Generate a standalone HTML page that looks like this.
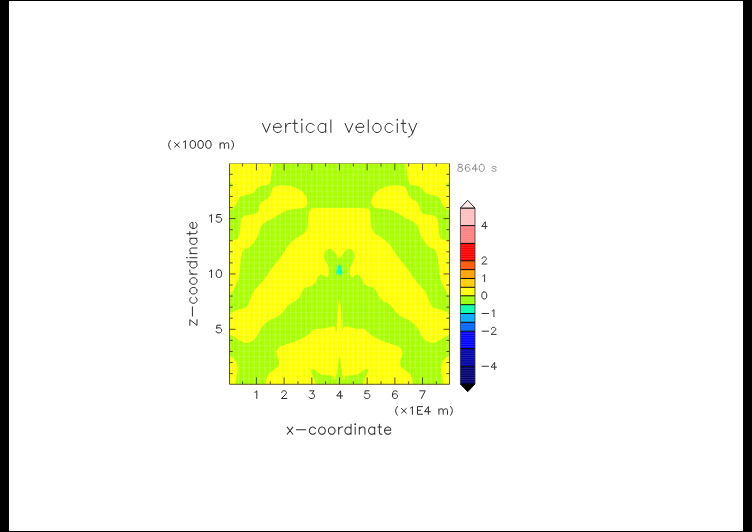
<!DOCTYPE html>
<html><head><meta charset="utf-8"><title>vertical velocity</title>
<style>
html,body{margin:0;padding:0;background:#000;width:752px;height:532px;overflow:hidden;font-family:"Liberation Sans",sans-serif}
svg{display:block;position:absolute;left:0;top:0}
.t use,.t path{fill:none}
</style></head><body>
<svg width="752" height="532" viewBox="0 0 752 532">
<defs>
<clipPath id="fr"><rect x="229.5" y="163.5" width="220.0" height="220.8"/></clipPath>
<g fill="none" stroke-linecap="round" stroke-linejoin="round" vector-effect="non-scaling-stroke">
<path id="g40" d="M6.5 20Q-3.1 9 6.5 -2.5"/>
<path id="g41" d="M4 20Q13.6 9 4 -2.5"/>
<path id="g45" d="M4 9L22 9"/>
<path id="g48" d="M9 19.74L11 19.74L14 18.8L16 15.98L17 11.28L17 8.46L16 3.76L14 0.94L11 0.0L9 0.0L6 0.94L4 3.76L3 8.46L3 11.28L4 15.98L6 18.8L9 19.74"/>
<path id="g49" d="M11 0.0L11 19.74L8 16.92L6 15.98"/>
<path id="g50" d="M4 15.04L4 15.98L5 17.86L6 18.8L8 19.74L12 19.74L14 18.8L15 17.86L16 15.98L16 14.1L15 12.22L13 9.4L3 0.0L17 0.0"/>
<path id="g51" d="M5 19.74L16 19.74L10 12.22L13 12.22L15 11.28L16 10.34L17 7.52L17 5.64L16 2.82L14 0.94L11 0.0L8 0.0L5 0.94L4 1.88L3 3.76"/>
<path id="g52" d="M13 0.0L13 19.74L3 6.58L18 6.58"/>
<path id="g53" d="M15 19.74L5 19.74L4 11.28L5 12.22L8 13.16L11 13.16L14 12.22L16 10.34L17 7.52L17 5.64L16 2.82L14 0.94L11 0.0L8 0.0L5 0.94L4 1.88L3 3.76"/>
<path id="g54" d="M16 16.92L15 18.8L12 19.74L10 19.74L7 18.8L5 15.98L4 11.28L4 6.58L5 9.4L7 11.28L10 12.22L11 12.22L14 11.28L16 9.4L17 6.58L17 5.64L16 2.82L14 0.94L11 0.0L10 0.0L7 0.94L5 2.82L4 6.58"/>
<path id="g55" d="M3 19.74L17 19.74L7 0.0"/>
<path id="g56" d="M8 19.74L12 19.74L15 18.8L16 16.92L16 15.04L15 13.16L13 12.22L9 11.28L6 10.34L4 8.46L3 6.58L3 3.76L4 1.88L5 0.94L8 0.0L12 0.0L15 0.94L16 1.88L17 3.76L17 6.58L16 8.46L14 10.34L11 11.28L7 12.22L5 13.16L4 15.04L4 16.92L5 18.8L8 19.74"/>
<path id="g69" d="M17 19.74L4 19.74L4 0.0L17 0.0M4 10.34L12 10.34"/>
<path id="g88" d="M3 3L15.5 15M15.5 3L3 15"/>
<path id="g97" d="M15 14L15 0M15 11L13 13L11 14L8 14L6 13L4 11L3 8L3 6L4 3L6 1L8 0L11 0L13 1L15 3"/>
<path id="g99" d="M15 11L13 13L11 14L8 14L6 13L4 11L3 8L3 6L4 3L6 1L8 0L11 0L13 1L15 3"/>
<path id="g100" d="M15 19.5L15 0M15 11L13 13L11 14L8 14L6 13L4 11L3 8L3 6L4 3L6 1L8 0L11 0L13 1L15 3"/>
<path id="g101" d="M15 3L13 1L11 0L8 0L6 1L4 3L3 6L3 8L4 11L6 13L8 14L11 14L13 13L14 12L15 10L15 8L3 8"/>
<path id="g105" d="M4 14L4 0M4 20.29L3 19.5L4 18.71L5 19.5L4 20.29"/>
<path id="g108" d="M4 19.5L4 0"/>
<path id="g109" d="M4 14L4 0M4 10L7 13L9 14L12 14L14 13L15 10L18 13L20 14L23 14L25 13L26 10L26 0M15 0L15 10"/>
<path id="g110" d="M4 14L4 0M4 10L7 13L9 14L12 14L14 13L15 10L15 0"/>
<path id="g111" d="M8 14L11 14L13 13L15 11L16 8L16 6L15 3L13 1L11 0L8 0L6 1L4 3L3 6L3 8L4 11L6 13L8 14"/>
<path id="g114" d="M4 14L4 0M12 14L9 14L7 13L5 11L4 8"/>
<path id="g115" d="M14 11L13 13L10 14L7 14L4 13L3 11L4 9L6 8L11 7L13 6L14 4L14 3L13 1L10 0L7 0L4 1L3 3"/>
<path id="g116" d="M5 19.5L5 4L6 1L8 0L10 0M2 14L9 14"/>
<path id="g118" d="M2 14L8 0L14 14"/>
<path id="g120" d="M3 14L14 0M14 14L3 0"/>
<path id="g121" d="M2 14L8 0L14 14M1 -7L2 -7L4 -6L6 -4L8 0"/>
<path id="g122" d="M3 14L14 14L3 0L14 0"/>
</g>
</defs>
<rect x="0" y="0" width="752" height="532" fill="#000"/>
<rect x="9" y="1" width="734" height="530" fill="#fff"/>
<g clip-path="url(#fr)">
<rect x="229.5" y="163.5" width="220.0" height="220.8" fill="#ffff00"/>
<path d="M339.7 163.5 L339.7 207.9 L317.5 207.9 L310.8 208.6 L309.4 210.4 L308.7 212.9 L308.3 217.3 L308.0 220.9 L307.9 225.3 L307.3 228.2 L306.2 230.8 L304.8 232.6 L302.6 234.4 L300.3 235.9 L296.7 238.0 L293.9 240.1 L290.3 243.3 L288.0 246.0 L285.8 249.6 L283.7 252.8 L280.5 257.2 L277.9 260.8 L274.3 265.2 L272.0 268.1 L269.8 270.9 L268.2 273.2 L266.4 276.2 L264.8 278.6 L262.3 281.5 L260.2 283.9 L257.2 286.9 L255.2 289.3 L253.1 292.2 L251.8 294.8 L250.7 298.4 L249.7 301.0 L248.5 304.0 L247.2 305.9 L245.1 307.7 L242.9 308.6 L239.2 309.3 L236.7 310.0 L234.1 311.1 L232.2 312.3 L229.5 314.8 L229.5 210.3 L233.1 208.2 L234.6 207.0 L235.7 205.6 L236.6 204.1 L237.4 201.6 L238.3 199.9 L239.5 197.8 L240.9 196.6 L243.4 195.7 L245.7 195.1 L249.3 194.5 L251.5 193.8 L253.6 192.6 L255.0 191.2 L256.5 188.7 L258.0 187.4 L260.5 186.3 L262.9 185.6 L266.9 184.9 L268.9 183.9 L270.0 182.1 L270.7 180.2 L271.1 177.2 L271.5 174.8 L271.9 171.9 L272.5 169.1 L273.7 163.5Z" fill="#a8ff00"/>
<path d="M339.1 163.5 L339.1 207.9 L361.2 207.9 L368.0 208.6 L369.4 210.4 L370.1 212.9 L370.5 217.3 L370.8 220.9 L370.9 225.3 L371.5 228.2 L372.6 230.8 L374.0 232.6 L376.2 234.4 L378.5 235.9 L382.1 238.0 L384.9 240.1 L388.5 243.3 L390.8 246.0 L393.0 249.6 L395.1 252.8 L398.3 257.2 L400.9 260.8 L404.5 265.2 L406.8 268.1 L409.0 270.9 L410.6 273.2 L412.4 276.2 L414.1 278.6 L416.4 281.5 L418.6 283.9 L421.6 286.9 L423.6 289.3 L425.7 292.2 L427.0 294.8 L428.1 298.4 L429.1 301.0 L430.3 304.0 L431.6 305.9 L433.7 307.7 L435.9 308.6 L439.6 309.3 L442.1 310.0 L444.7 311.1 L446.6 312.3 L449.3 314.8 L449.3 210.3 L445.7 208.2 L444.2 207.0 L443.1 205.6 L442.2 204.1 L441.4 201.6 L440.5 199.9 L439.3 197.8 L437.9 196.6 L435.4 195.7 L433.1 195.1 L429.5 194.5 L427.3 193.8 L425.2 192.6 L423.8 191.2 L422.3 188.7 L420.8 187.4 L418.4 186.3 L415.9 185.6 L411.9 184.9 L409.9 183.9 L408.8 182.1 L408.1 180.2 L407.7 177.2 L407.3 174.8 L406.9 171.9 L406.4 169.1 L405.1 163.5Z" fill="#a8ff00"/>
<path d="M272.5 188.3 L274.0 186.8 L276.6 186.0 L279.1 185.5 L282.7 185.2 L285.9 185.4 L290.3 186.1 L293.9 187.1 L298.3 188.9 L301.2 190.7 L303.8 193.3 L305.4 195.6 L306.8 198.7 L307.3 201.0 L307.3 203.6 L306.8 205.3 L305.4 207.0 L303.8 207.8 L301.2 208.2 L298.3 208.6 L293.9 209.0 L290.7 209.6 L287.1 210.4 L284.3 211.6 L280.7 213.5 L277.9 215.2 L274.3 217.4 L271.5 219.0 L267.9 220.8 L265.6 222.0 L263.4 223.4 L262.0 225.0 L260.7 227.6 L259.8 229.9 L259.0 233.1 L258.0 235.4 L256.6 238.4 L254.8 241.0 L251.9 245.0 L249.9 246.9 L247.8 247.9 L246.3 248.5 L244.4 249.0 L243.2 250.4 L242.1 253.3 L241.4 256.4 L240.7 261.2 L240.3 265.1 L239.8 270.0 L239.4 273.3 L238.8 276.8 L238.1 279.5 L236.7 283.1 L235.5 285.9 L233.7 289.5 L232.2 292.1 L229.5 296.5 L229.5 240.7 L232.2 240.1 L234.1 239.7 L236.7 239.3 L238.2 238.2 L239.0 236.0 L239.6 233.3 L240.0 228.9 L240.4 225.3 L240.8 220.9 L241.7 218.3 L243.5 216.4 L245.3 215.4 L247.9 214.9 L250.2 214.6 L253.4 214.4 L255.3 213.8 L257.1 212.4 L258.2 210.7 L259.0 207.5 L259.8 205.4 L260.6 203.2 L261.9 201.8 L264.1 200.5 L266.0 199.3 L268.7 197.5 L270.1 195.7 L270.9 193.1 L271.7 190.9Z" fill="#ffff00"/>
<path d="M406.2 188.3 L404.8 186.8 L402.2 186.0 L399.7 185.5 L396.1 185.2 L392.9 185.4 L388.5 186.1 L384.9 187.1 L380.5 188.9 L377.6 190.7 L375.0 193.3 L373.4 195.6 L372.0 198.7 L371.5 201.0 L371.5 203.6 L372.0 205.3 L373.4 207.0 L375.0 207.8 L377.6 208.2 L380.5 208.6 L384.9 209.0 L388.1 209.6 L391.7 210.4 L394.5 211.6 L398.1 213.5 L400.9 215.2 L404.5 217.4 L407.3 219.0 L410.9 220.8 L413.2 222.0 L415.4 223.4 L416.8 225.0 L418.1 227.6 L418.9 229.9 L419.9 233.1 L420.8 235.4 L422.2 238.4 L424.0 241.0 L426.9 245.0 L428.9 246.9 L431.0 247.9 L432.5 248.5 L434.4 249.0 L435.6 250.4 L436.7 253.3 L437.4 256.4 L438.1 261.2 L438.5 265.1 L439.0 270.0 L439.4 273.3 L440.0 276.8 L440.7 279.5 L442.1 283.1 L443.3 285.9 L445.1 289.5 L446.6 292.1 L449.3 296.5 L449.3 240.7 L446.6 240.1 L444.7 239.7 L442.1 239.3 L440.6 238.2 L439.8 236.0 L439.2 233.3 L438.8 228.9 L438.4 225.3 L438.0 220.9 L437.1 218.3 L435.3 216.4 L433.5 215.4 L430.9 214.9 L428.6 214.6 L425.4 214.4 L423.5 213.8 L421.7 212.4 L420.6 210.7 L419.8 207.5 L419.1 205.4 L418.1 203.2 L416.9 201.8 L414.7 200.5 L412.8 199.3 L410.1 197.5 L408.8 195.7 L407.9 193.1 L407.1 190.9Z" fill="#ffff00"/>
<path d="M229.5 182.6 L231.1 183.1 L231.7 183.6 L232.3 184.8 L232.3 185.7 L231.7 186.9 L231.1 187.5 L229.5 188.0Z" fill="#a8ff00"/>
<path d="M449.3 182.6 L447.7 183.1 L447.1 183.6 L446.5 184.8 L446.5 185.7 L447.1 186.9 L447.7 187.5 L449.3 188.0Z" fill="#a8ff00"/>
<path d="M339.7 258.4 L339.2 258.4 L337.3 256.4 L336.4 255.1 L335.3 253.2 L334.5 251.9 L333.3 250.5 L332.2 249.7 L330.3 249.0 L328.9 249.0 L327.0 249.7 L325.9 250.6 L324.7 252.5 L324.3 254.2 L324.1 256.8 L324.5 258.7 L325.3 260.8 L326.3 262.6 L327.7 264.8 L328.5 266.6 L329.0 268.7 L329.1 270.8 L329.0 273.7 L328.5 275.5 L327.4 276.9 L326.3 277.1 L324.4 275.9 L323.1 275.2 L321.7 274.5 L320.7 274.5 L319.5 275.2 L318.7 276.2 L317.5 278.1 L316.7 279.8 L315.5 282.4 L314.2 284.0 L312.1 285.5 L310.2 286.4 L307.6 287.1 L306.2 287.4 L305.4 287.6 L304.4 288.4 L302.7 290.5 L301.5 292.7 L300.0 296.3 L298.6 298.4 L296.5 300.2 L294.5 301.5 L291.5 303.0 L289.5 304.3 L287.4 306.1 L285.9 307.9 L284.1 310.5 L282.6 312.4 L280.4 314.6 L278.4 316.0 L275.5 317.4 L273.1 318.6 L270.1 320.1 L268.0 321.4 L265.5 323.2 L263.9 324.7 L262.1 326.9 L261.0 328.6 L259.8 330.7 L258.9 332.6 L257.5 335.2 L256.5 336.9 L255.3 338.5 L254.2 339.6 L252.8 340.8 L251.5 341.5 L249.7 342.3 L248.3 342.7 L246.5 342.9 L245.1 342.8 L243.2 342.2 L241.5 341.4 L238.8 340.0 L236.0 338.3 L229.5 334.6 L229.5 356.1 L233.5 358.0 L235.2 359.7 L236.9 362.9 L237.6 365.5 L237.7 369.1 L237.4 372.3 L236.6 376.7 L236.0 379.8 L235.4 384.3 L265.7 384.3 L266.9 377.3 L268.5 374.2 L271.7 371.6 L274.1 369.6 L277.3 367.4 L278.7 365.4 L279.1 362.8 L278.8 360.5 L277.4 357.3 L276.7 355.0 L276.3 352.4 L276.6 350.4 L278.0 348.2 L279.7 346.8 L282.9 345.4 L285.9 344.4 L290.3 343.1 L293.9 341.9 L298.3 340.1 L301.8 338.5 L306.2 336.0 L308.8 334.2 L310.9 332.1 L312.4 330.7 L313.9 329.4 L316.5 328.8 L321.7 328.7 L325.2 328.2 L328.8 327.2 L331.4 326.7 L334.1 326.4 L335.3 327.1 L335.6 329.2 L335.8 330.6 L336.2 332.0 L336.4 331.5 L336.8 329.0 L337.0 326.7 L337.1 323.3 L337.4 319.4 L337.7 312.6 L338.1 308.5 L338.4 304.5 L338.7 302.0 L339.2 298.6 L339.7 298.6Z" fill="#a8ff00"/>
<path d="M339.1 258.4 L339.6 258.4 L341.5 256.4 L342.4 255.1 L343.5 253.2 L344.3 251.9 L345.5 250.5 L346.6 249.7 L348.5 249.0 L349.9 249.0 L351.8 249.7 L352.9 250.6 L354.1 252.5 L354.5 254.2 L354.7 256.8 L354.4 258.7 L353.4 260.8 L352.5 262.6 L351.1 264.8 L350.3 266.6 L349.8 268.7 L349.7 270.8 L349.8 273.7 L350.3 275.5 L351.4 276.9 L352.5 277.1 L354.4 275.9 L355.7 275.2 L357.1 274.5 L358.1 274.5 L359.3 275.2 L360.1 276.2 L361.3 278.1 L362.1 279.8 L363.3 282.4 L364.6 284.0 L366.7 285.5 L368.6 286.4 L371.2 287.1 L372.6 287.4 L373.4 287.6 L374.4 288.4 L376.1 290.5 L377.3 292.7 L378.8 296.3 L380.2 298.4 L382.3 300.2 L384.3 301.5 L387.3 303.0 L389.3 304.3 L391.4 306.1 L392.9 307.9 L394.7 310.5 L396.2 312.4 L398.4 314.6 L400.4 316.0 L403.3 317.4 L405.7 318.6 L408.7 320.1 L410.9 321.4 L413.2 323.2 L414.9 324.7 L416.7 326.9 L417.8 328.6 L419.0 330.7 L419.9 332.6 L421.3 335.2 L422.3 336.9 L423.5 338.5 L424.6 339.6 L426.0 340.8 L427.3 341.5 L429.1 342.3 L430.5 342.7 L432.3 342.9 L433.7 342.8 L435.6 342.2 L437.3 341.4 L440.0 340.0 L442.8 338.3 L449.3 334.6 L449.3 356.1 L445.3 358.0 L443.6 359.7 L441.9 362.9 L441.2 365.5 L441.1 369.1 L441.4 372.3 L442.2 376.7 L442.8 379.8 L443.4 384.3 L413.1 384.3 L411.9 377.3 L410.3 374.2 L407.1 371.6 L404.7 369.6 L401.5 367.4 L400.1 365.4 L399.7 362.8 L400.0 360.5 L401.4 357.3 L402.1 355.0 L402.5 352.4 L402.2 350.4 L400.8 348.2 L399.1 346.8 L395.9 345.4 L392.9 344.4 L388.5 343.1 L384.9 341.9 L380.5 340.1 L377.0 338.5 L372.6 336.0 L370.0 334.2 L367.9 332.1 L366.4 330.7 L364.9 329.4 L362.3 328.8 L357.1 328.7 L353.6 328.2 L349.9 327.2 L347.4 326.7 L344.7 326.4 L343.5 327.1 L343.2 329.2 L343.0 330.6 L342.6 332.0 L342.4 331.5 L342.0 329.0 L341.8 326.7 L341.7 323.3 L341.4 319.4 L341.1 312.6 L340.8 308.5 L340.4 304.5 L340.1 302.0 L339.6 298.6 L339.1 298.6Z" fill="#a8ff00"/>
<path d="M310.5 369.6 L311.1 369.2 L312.6 369.0 L314.1 369.6 L316.2 371.3 L318.0 372.6 L320.1 374.0 L322.2 374.8 L325.1 375.1 L327.5 375.4 L330.4 375.5 L332.0 375.7 L333.0 375.8 L333.5 376.4 L333.7 377.5 L334.0 378.6 L334.3 380.2 L334.7 380.2 L335.4 378.6 L335.7 377.6 L335.9 376.4 L336.2 375.3 L336.6 373.3 L337.0 371.1 L337.6 367.5 L338.0 364.7 L338.4 361.3 L338.8 359.4 L339.3 357.2 L339.7 357.2 L339.7 384.3 L315.8 384.3 L314.8 380.9 L314.1 378.9 L312.9 376.3 L312.1 374.3 L310.9 371.7 L310.5 370.4Z" fill="#a8ff00"/>
<path d="M368.3 369.6 L367.7 369.2 L366.2 369.0 L364.7 369.6 L362.6 371.3 L360.8 372.6 L358.7 374.0 L356.6 374.8 L353.7 375.1 L351.3 375.4 L348.4 375.5 L346.8 375.7 L345.8 375.8 L345.3 376.4 L345.1 377.5 L344.9 378.6 L344.4 380.2 L344.1 380.2 L343.4 378.6 L343.1 377.6 L342.9 376.4 L342.6 375.3 L342.2 373.3 L341.8 371.1 L341.2 367.5 L340.8 364.7 L340.4 361.3 L340.1 359.4 L339.5 357.2 L339.1 357.2 L339.1 384.3 L363.0 384.3 L364.0 380.9 L364.7 378.9 L365.9 376.3 L366.7 374.3 L367.9 371.7 L368.3 370.4Z" fill="#a8ff00"/>
<path d="M339.3 263.9 L337.7 266.3 L337.0 267.9 L336.6 270.0 L336.4 271.7 L336.4 273.7 L336.7 274.6 L337.3 274.9 L338.0 274.8 L339.3 274.1 L341.0 275.0 L342.2 274.5 L342.2 270.9 L341.4 267.0Z" fill="#00ffb4"/>
<path d="M233.50 163.5V384.3M238.70 163.5V384.3M243.90 163.5V384.3M249.10 163.5V384.3M254.30 163.5V384.3M259.50 163.5V384.3M264.70 163.5V384.3M269.90 163.5V384.3M275.10 163.5V384.3M280.30 163.5V384.3M285.50 163.5V384.3M290.70 163.5V384.3M295.90 163.5V384.3M301.10 163.5V384.3M306.30 163.5V384.3M311.50 163.5V384.3M316.70 163.5V384.3M321.90 163.5V384.3M327.10 163.5V384.3M332.30 163.5V384.3M337.50 163.5V384.3M342.70 163.5V384.3M347.90 163.5V384.3M353.10 163.5V384.3M358.30 163.5V384.3M363.50 163.5V384.3M368.70 163.5V384.3M373.90 163.5V384.3M379.10 163.5V384.3M384.30 163.5V384.3M389.50 163.5V384.3M394.70 163.5V384.3M399.90 163.5V384.3M405.10 163.5V384.3M410.30 163.5V384.3M415.50 163.5V384.3M420.70 163.5V384.3M425.90 163.5V384.3M431.10 163.5V384.3M436.30 163.5V384.3M441.50 163.5V384.3M446.70 163.5V384.3" stroke="#fff" stroke-opacity="0.2" stroke-width="1.5" fill="none"/>
<path d="M229.5 378.78H449.5M229.5 373.26H449.5M229.5 367.74H449.5M229.5 362.22H449.5M229.5 356.70H449.5M229.5 351.18H449.5M229.5 345.66H449.5M229.5 340.14H449.5M229.5 334.62H449.5M229.5 329.10H449.5M229.5 323.58H449.5M229.5 318.06H449.5M229.5 312.54H449.5M229.5 307.02H449.5M229.5 301.50H449.5M229.5 295.98H449.5M229.5 290.46H449.5M229.5 284.94H449.5M229.5 279.42H449.5M229.5 273.90H449.5M229.5 268.38H449.5M229.5 262.86H449.5M229.5 257.34H449.5M229.5 251.82H449.5M229.5 246.30H449.5M229.5 240.78H449.5M229.5 235.26H449.5M229.5 229.74H449.5M229.5 224.22H449.5M229.5 218.70H449.5M229.5 213.18H449.5M229.5 207.66H449.5M229.5 202.14H449.5M229.5 196.62H449.5M229.5 191.10H449.5M229.5 185.58H449.5M229.5 180.06H449.5M229.5 174.54H449.5M229.5 169.02H449.5" stroke="#fff" stroke-opacity="0.11" stroke-width="1.2" fill="none"/>
</g>
<g fill="none">
<path d="M242.59 384.30L242.59 381.30" stroke="#2b2b08" stroke-width="0.8"/>
<path d="M242.59 163.50L242.59 166.50" stroke="#2b2b08" stroke-width="0.8"/>
<path d="M256.43 384.30L256.43 377.40" stroke="#2b2b08" stroke-width="0.8"/>
<path d="M256.43 163.50L256.43 170.40" stroke="#2b2b08" stroke-width="0.8"/>
<path d="M270.27 384.30L270.27 381.30" stroke="#2b2b08" stroke-width="0.8"/>
<path d="M270.27 163.50L270.27 166.50" stroke="#2b2b08" stroke-width="0.8"/>
<path d="M284.11 384.30L284.11 377.40" stroke="#2b2b08" stroke-width="0.8"/>
<path d="M284.11 163.50L284.11 170.40" stroke="#2b2b08" stroke-width="0.8"/>
<path d="M297.95 384.30L297.95 381.30" stroke="#2b2b08" stroke-width="0.8"/>
<path d="M297.95 163.50L297.95 166.50" stroke="#2b2b08" stroke-width="0.8"/>
<path d="M311.79 384.30L311.79 377.40" stroke="#2b2b08" stroke-width="0.8"/>
<path d="M311.79 163.50L311.79 170.40" stroke="#2b2b08" stroke-width="0.8"/>
<path d="M325.63 384.30L325.63 381.30" stroke="#2b2b08" stroke-width="0.8"/>
<path d="M325.63 163.50L325.63 166.50" stroke="#2b2b08" stroke-width="0.8"/>
<path d="M339.47 384.30L339.47 377.40" stroke="#2b2b08" stroke-width="0.8"/>
<path d="M339.47 163.50L339.47 170.40" stroke="#2b2b08" stroke-width="0.8"/>
<path d="M353.31 384.30L353.31 381.30" stroke="#2b2b08" stroke-width="0.8"/>
<path d="M353.31 163.50L353.31 166.50" stroke="#2b2b08" stroke-width="0.8"/>
<path d="M367.15 384.30L367.15 377.40" stroke="#2b2b08" stroke-width="0.8"/>
<path d="M367.15 163.50L367.15 170.40" stroke="#2b2b08" stroke-width="0.8"/>
<path d="M380.99 384.30L380.99 381.30" stroke="#2b2b08" stroke-width="0.8"/>
<path d="M380.99 163.50L380.99 166.50" stroke="#2b2b08" stroke-width="0.8"/>
<path d="M394.83 384.30L394.83 377.40" stroke="#2b2b08" stroke-width="0.8"/>
<path d="M394.83 163.50L394.83 170.40" stroke="#2b2b08" stroke-width="0.8"/>
<path d="M408.67 384.30L408.67 381.30" stroke="#2b2b08" stroke-width="0.8"/>
<path d="M408.67 163.50L408.67 166.50" stroke="#2b2b08" stroke-width="0.8"/>
<path d="M422.51 384.30L422.51 377.40" stroke="#2b2b08" stroke-width="0.8"/>
<path d="M422.51 163.50L422.51 170.40" stroke="#2b2b08" stroke-width="0.8"/>
<path d="M436.35 384.30L436.35 381.30" stroke="#2b2b08" stroke-width="0.8"/>
<path d="M436.35 163.50L436.35 166.50" stroke="#2b2b08" stroke-width="0.8"/>
<path d="M229.50 373.58L232.70 373.58" stroke="#2b2b08" stroke-width="0.8"/>
<path d="M449.50 373.58L446.30 373.58" stroke="#2b2b08" stroke-width="0.8"/>
<path d="M229.50 362.51L232.70 362.51" stroke="#2b2b08" stroke-width="0.8"/>
<path d="M449.50 362.51L446.30 362.51" stroke="#2b2b08" stroke-width="0.8"/>
<path d="M229.50 351.44L232.70 351.44" stroke="#2b2b08" stroke-width="0.8"/>
<path d="M449.50 351.44L446.30 351.44" stroke="#2b2b08" stroke-width="0.8"/>
<path d="M229.50 340.37L232.70 340.37" stroke="#2b2b08" stroke-width="0.8"/>
<path d="M449.50 340.37L446.30 340.37" stroke="#2b2b08" stroke-width="0.8"/>
<path d="M229.50 329.30L235.50 329.30" stroke="#2b2b08" stroke-width="0.8"/>
<path d="M449.50 329.30L443.50 329.30" stroke="#2b2b08" stroke-width="0.8"/>
<path d="M229.50 318.23L232.70 318.23" stroke="#2b2b08" stroke-width="0.8"/>
<path d="M449.50 318.23L446.30 318.23" stroke="#2b2b08" stroke-width="0.8"/>
<path d="M229.50 307.16L232.70 307.16" stroke="#2b2b08" stroke-width="0.8"/>
<path d="M449.50 307.16L446.30 307.16" stroke="#2b2b08" stroke-width="0.8"/>
<path d="M229.50 296.09L232.70 296.09" stroke="#2b2b08" stroke-width="0.8"/>
<path d="M449.50 296.09L446.30 296.09" stroke="#2b2b08" stroke-width="0.8"/>
<path d="M229.50 285.02L232.70 285.02" stroke="#2b2b08" stroke-width="0.8"/>
<path d="M449.50 285.02L446.30 285.02" stroke="#2b2b08" stroke-width="0.8"/>
<path d="M229.50 273.95L235.50 273.95" stroke="#2b2b08" stroke-width="0.8"/>
<path d="M449.50 273.95L443.50 273.95" stroke="#2b2b08" stroke-width="0.8"/>
<path d="M229.50 262.88L232.70 262.88" stroke="#2b2b08" stroke-width="0.8"/>
<path d="M449.50 262.88L446.30 262.88" stroke="#2b2b08" stroke-width="0.8"/>
<path d="M229.50 251.81L232.70 251.81" stroke="#2b2b08" stroke-width="0.8"/>
<path d="M449.50 251.81L446.30 251.81" stroke="#2b2b08" stroke-width="0.8"/>
<path d="M229.50 240.74L232.70 240.74" stroke="#2b2b08" stroke-width="0.8"/>
<path d="M449.50 240.74L446.30 240.74" stroke="#2b2b08" stroke-width="0.8"/>
<path d="M229.50 229.67L232.70 229.67" stroke="#2b2b08" stroke-width="0.8"/>
<path d="M449.50 229.67L446.30 229.67" stroke="#2b2b08" stroke-width="0.8"/>
<path d="M229.50 218.60L235.50 218.60" stroke="#2b2b08" stroke-width="0.8"/>
<path d="M449.50 218.60L443.50 218.60" stroke="#2b2b08" stroke-width="0.8"/>
<path d="M229.50 207.53L232.70 207.53" stroke="#2b2b08" stroke-width="0.8"/>
<path d="M449.50 207.53L446.30 207.53" stroke="#2b2b08" stroke-width="0.8"/>
<path d="M229.50 196.46L232.70 196.46" stroke="#2b2b08" stroke-width="0.8"/>
<path d="M449.50 196.46L446.30 196.46" stroke="#2b2b08" stroke-width="0.8"/>
<path d="M229.50 185.39L232.70 185.39" stroke="#2b2b08" stroke-width="0.8"/>
<path d="M449.50 185.39L446.30 185.39" stroke="#2b2b08" stroke-width="0.8"/>
<path d="M229.50 174.32L232.70 174.32" stroke="#2b2b08" stroke-width="0.8"/>
<path d="M449.50 174.32L446.30 174.32" stroke="#2b2b08" stroke-width="0.8"/>
<path d="M229.5 163.5V384.3H449.5V163.5" stroke="#4a4608" stroke-width="0.9"/>
<path d="M229.5 163.5H449.5" stroke="#6b6b10" stroke-opacity="0.55" stroke-width="0.9"/>
</g>
<g>
<rect x="460.4" y="208.0" width="14.6" height="17.9" fill="#ffc0c0"/>
<rect x="460.4" y="225.6" width="14.6" height="18.1" fill="#ff8080"/>
<rect x="460.4" y="243.4" width="14.6" height="17.7" fill="#ff0000"/>
<rect x="460.4" y="260.8" width="14.6" height="9.1" fill="#ff5500"/>
<rect x="460.4" y="269.6" width="14.6" height="9.2" fill="#ffa000"/>
<rect x="460.4" y="278.5" width="14.6" height="9.1" fill="#ffcc00"/>
<rect x="460.4" y="287.3" width="14.6" height="8.8" fill="#ffff00"/>
<rect x="460.4" y="295.8" width="14.6" height="9.2" fill="#99ff00"/>
<rect x="460.4" y="304.7" width="14.6" height="9.1" fill="#00ffaa"/>
<rect x="460.4" y="313.5" width="14.6" height="9.1" fill="#00aaff"/>
<rect x="460.4" y="322.3" width="14.6" height="9.2" fill="#0066ff"/>
<rect x="460.4" y="331.2" width="14.6" height="17.7" fill="#0000ff"/>
<rect x="460.4" y="348.6" width="14.6" height="18.0" fill="#0000aa"/>
<rect x="460.4" y="366.3" width="14.6" height="18.0" fill="#000070"/>
<path d="M460.4 210.2H475.0M460.4 212.4H475.0M460.4 214.6H475.0M460.4 216.8H475.0M460.4 219.0H475.0M460.4 221.2H475.0M460.4 223.4H475.0M460.4 225.6H475.0M460.4 227.8H475.0M460.4 230.0H475.0M460.4 232.2H475.0M460.4 234.4H475.0M460.4 236.6H475.0M460.4 238.8H475.0M460.4 241.0H475.0M460.4 243.2H475.0M460.4 245.4H475.0M460.4 247.6H475.0M460.4 249.8H475.0M460.4 252.0H475.0M460.4 254.2H475.0M460.4 256.4H475.0M460.4 258.6H475.0M460.4 260.8H475.0M460.4 263.0H475.0M460.4 265.2H475.0M460.4 267.4H475.0M460.4 269.6H475.0M460.4 271.8H475.0M460.4 274.0H475.0M460.4 276.2H475.0M460.4 278.4H475.0M460.4 280.6H475.0M460.4 282.8H475.0M460.4 285.0H475.0M460.4 287.2H475.0M460.4 289.4H475.0M460.4 291.6H475.0M460.4 293.8H475.0M460.4 296.0H475.0M460.4 298.2H475.0M460.4 300.4H475.0M460.4 302.6H475.0M460.4 304.8H475.0M460.4 307.0H475.0M460.4 309.2H475.0M460.4 311.4H475.0M460.4 313.6H475.0M460.4 315.8H475.0M460.4 318.0H475.0M460.4 320.2H475.0M460.4 322.4H475.0M460.4 324.6H475.0M460.4 326.8H475.0M460.4 329.0H475.0M460.4 331.2H475.0M460.4 333.4H475.0M460.4 335.6H475.0M460.4 337.8H475.0M460.4 340.0H475.0M460.4 342.2H475.0M460.4 344.4H475.0M460.4 346.6H475.0M460.4 348.8H475.0M460.4 351.0H475.0M460.4 353.2H475.0M460.4 355.4H475.0M460.4 357.6H475.0M460.4 359.8H475.0M460.4 362.0H475.0M460.4 364.2H475.0M460.4 366.4H475.0M460.4 368.6H475.0M460.4 370.8H475.0M460.4 373.0H475.0M460.4 375.2H475.0M460.4 377.4H475.0M460.4 379.6H475.0M460.4 381.8H475.0" stroke="#fff" stroke-opacity="0.2" stroke-width="0.7"/>
<path d="M460.40 208.00L475.00 208.00" stroke="#0a0a0a" stroke-width="1.0"/>
<path d="M460.40 225.60L475.00 225.60" stroke="#0a0a0a" stroke-width="1.0"/>
<path d="M460.40 243.40L475.00 243.40" stroke="#0a0a0a" stroke-width="1.0"/>
<path d="M460.40 260.80L475.00 260.80" stroke="#0a0a0a" stroke-width="1.0"/>
<path d="M460.40 269.60L475.00 269.60" stroke="#0a0a0a" stroke-width="1.0"/>
<path d="M460.40 278.50L475.00 278.50" stroke="#0a0a0a" stroke-width="1.0"/>
<path d="M460.40 287.30L475.00 287.30" stroke="#0a0a0a" stroke-width="1.0"/>
<path d="M460.40 295.80L475.00 295.80" stroke="#0a0a0a" stroke-width="1.0"/>
<path d="M460.40 304.70L475.00 304.70" stroke="#0a0a0a" stroke-width="1.0"/>
<path d="M460.40 313.50L475.00 313.50" stroke="#0a0a0a" stroke-width="1.0"/>
<path d="M460.40 322.30L475.00 322.30" stroke="#0a0a0a" stroke-width="1.0"/>
<path d="M460.40 331.20L475.00 331.20" stroke="#0a0a0a" stroke-width="1.0"/>
<path d="M460.40 348.60L475.00 348.60" stroke="#0a0a0a" stroke-width="1.0"/>
<path d="M460.40 366.30L475.00 366.30" stroke="#0a0a0a" stroke-width="1.0"/>
<path d="M460.4 208L467.7 200.3L475.0 208Z" fill="#ffe8e8" stroke="#111" stroke-width="0.9"/>
<path d="M460.4 384L467.7 391.7L475.0 384Z" fill="#000" stroke="#000" stroke-width="0.9"/>
<path d="M460.40 208.00L460.40 384.00" stroke="#333" stroke-width="0.8"/>
<path d="M475.00 208.00L475.00 384.00" stroke="#333" stroke-width="0.8"/>
</g>
<g class="t" fill="none" stroke-linecap="round" stroke-linejoin="round">
<g transform="translate(261.2 132.45) scale(0.645 -0.645)" stroke="#2a2a2a" stroke-width="1.550"><use href="#g118" x="0"/><use href="#g101" x="16"/><use href="#g114" x="34"/><use href="#g116" x="47"/><use href="#g105" x="59"/><use href="#g99" x="67"/><use href="#g97" x="85"/><use href="#g108" x="104"/><use href="#g118" x="128"/><use href="#g101" x="144"/><use href="#g108" x="162"/><use href="#g111" x="170"/><use href="#g99" x="189"/><use href="#g105" x="207"/><use href="#g116" x="215"/><use href="#g121" x="227"/></g>
<g transform="translate(167.85 148.3) scale(0.39 -0.39)" stroke="#2a2a2a" stroke-width="2.564"><use href="#g40" x="0"/><use href="#g88" x="14"/><use href="#g49" x="34"/><use href="#g48" x="54"/><use href="#g48" x="74"/><use href="#g48" x="94"/><use href="#g109" x="130"/><use href="#g41" x="160"/></g>
<g transform="translate(456.7 171.4) scale(0.358 -0.358)" stroke="#808080" stroke-width="2.374"><use href="#g56" x="0"/><use href="#g54" x="20"/><use href="#g52" x="40"/><use href="#g48" x="60"/><use href="#g115" x="96"/></g>
<g transform="translate(256.43 398.5) scale(0.39 -0.39)" stroke="#2a2a2a" stroke-width="2.564"><use href="#g49" x="-10.0"/></g>
<g transform="translate(284.11 398.5) scale(0.39 -0.39)" stroke="#2a2a2a" stroke-width="2.564"><use href="#g50" x="-10.0"/></g>
<g transform="translate(311.78999999999996 398.5) scale(0.39 -0.39)" stroke="#2a2a2a" stroke-width="2.564"><use href="#g51" x="-10.0"/></g>
<g transform="translate(339.47 398.5) scale(0.39 -0.39)" stroke="#2a2a2a" stroke-width="2.564"><use href="#g52" x="-10.0"/></g>
<g transform="translate(367.15 398.5) scale(0.39 -0.39)" stroke="#2a2a2a" stroke-width="2.564"><use href="#g53" x="-10.0"/></g>
<g transform="translate(394.83 398.5) scale(0.39 -0.39)" stroke="#2a2a2a" stroke-width="2.564"><use href="#g54" x="-10.0"/></g>
<g transform="translate(422.51 398.5) scale(0.39 -0.39)" stroke="#2a2a2a" stroke-width="2.564"><use href="#g55" x="-10.0"/></g>
<g transform="translate(222.77 332.9) scale(0.39 -0.39)" stroke="#2a2a2a" stroke-width="2.564"><use href="#g53" x="-20"/></g>
<g transform="translate(222.77 277.55) scale(0.39 -0.39)" stroke="#2a2a2a" stroke-width="2.564"><use href="#g49" x="-40"/><use href="#g48" x="-20"/></g>
<g transform="translate(222.77 222.19999999999996) scale(0.39 -0.39)" stroke="#2a2a2a" stroke-width="2.564"><use href="#g49" x="-40"/><use href="#g53" x="-20"/></g>
<g transform="translate(394.85 414.3) scale(0.39 -0.39)" stroke="#2a2a2a" stroke-width="2.564"><use href="#g40" x="0"/><use href="#g88" x="14"/><use href="#g49" x="34"/><use href="#g69" x="54"/><use href="#g52" x="73"/><use href="#g109" x="109"/><use href="#g41" x="139"/></g>
<g transform="translate(285.65 434.3) scale(0.515 -0.515)" stroke="#2a2a2a" stroke-width="1.942"><use href="#g120" x="0"/><use href="#g45" x="17"/><use href="#g99" x="43"/><use href="#g111" x="61"/><use href="#g111" x="80"/><use href="#g114" x="99"/><use href="#g100" x="112"/><use href="#g105" x="131"/><use href="#g110" x="139"/><use href="#g97" x="158"/><use href="#g116" x="177"/><use href="#g101" x="189"/></g>
<g transform="translate(197.0 326.85) rotate(-90) scale(0.512 -0.512)" stroke="#2a2a2a" stroke-width="1.953"><use href="#g122" x="0"/><use href="#g45" x="17"/><use href="#g99" x="43"/><use href="#g111" x="61"/><use href="#g111" x="80"/><use href="#g114" x="99"/><use href="#g100" x="112"/><use href="#g105" x="131"/><use href="#g110" x="139"/><use href="#g97" x="158"/><use href="#g116" x="177"/><use href="#g101" x="189"/></g>
<g transform="translate(480.7 228.79999999999998) scale(0.358 -0.358)" stroke="#2a2a2a" stroke-width="2.654"><use href="#g52" x="0"/></g>
<g transform="translate(480.7 264.0) scale(0.358 -0.358)" stroke="#2a2a2a" stroke-width="2.654"><use href="#g50" x="0"/></g>
<g transform="translate(480.7 281.7) scale(0.358 -0.358)" stroke="#2a2a2a" stroke-width="2.654"><use href="#g49" x="0"/></g>
<g transform="translate(480.7 299.0) scale(0.358 -0.358)" stroke="#2a2a2a" stroke-width="2.654"><use href="#g48" x="0"/></g>
<g transform="translate(480.7 316.7) scale(0.358 -0.358)" stroke="#2a2a2a" stroke-width="2.654"><use href="#g45" x="0"/><use href="#g49" x="26"/></g>
<g transform="translate(480.7 334.4) scale(0.358 -0.358)" stroke="#2a2a2a" stroke-width="2.654"><use href="#g45" x="0"/><use href="#g50" x="26"/></g>
<g transform="translate(480.7 369.5) scale(0.358 -0.358)" stroke="#2a2a2a" stroke-width="2.654"><use href="#g45" x="0"/><use href="#g52" x="26"/></g>
</g>
</svg>
</body></html>
